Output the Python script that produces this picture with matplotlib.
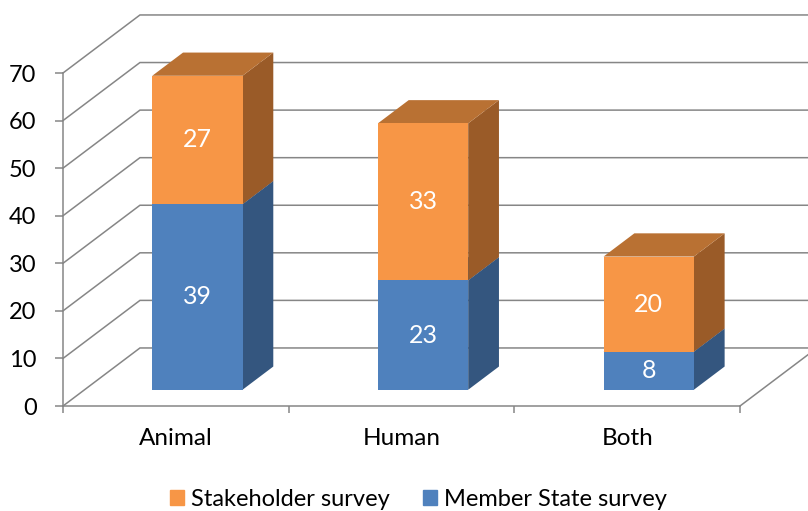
import matplotlib.pyplot as plt
from matplotlib.patches import Polygon, Patch

# data
categories = ['Animal', 'Human', 'Both']
member_state = [39, 23, 8]
stakeholder = [27, 33, 20]
series_names = ['Stakeholder survey', 'Member State survey']

plt.rcParams['font.family'] = ['Lato', 'DejaVu Sans']

GRID = '#868686'
BLUE = ['#4F81BD', '#34567F', '#3F6797']      # front, side, top
ORANGE = ['#F79646', '#9A5B28', '#B97133']

fig = plt.figure(figsize=(8.08, 5.11), dpi=100)
ax = fig.add_axes([63 / 808, 105 / 511, 677 / 808, 333 / 511])
ax.set_xlim(0, 3)
ax.set_ylim(0, 70)

# depth of the 3d box, in data units (x: categories, y: values)
DX, DY = 0.341, 12.2
d0, d1 = 0.28, 0.68      # bar front / back as fraction of full depth
w = 0.40                 # bar width

# back wall gridlines + side wall lines
for v in range(0, 80, 10):
    ax.plot([0, DX, 3 + DX + 0.2], [v, v + DY, v + DY], color=GRID, lw=1.1,
            clip_on=False, zorder=1, solid_joinstyle='miter')
ax.plot([3, 3 + DX], [0, DY], color=GRID, lw=1.1, clip_on=False, zorder=1)


def box(x0, y0, y1, cols):
    ox, oy = d0 * DX, d0 * DY
    ddx, ddy = (d1 - d0) * DX, (d1 - d0) * DY
    xl, xr = x0 + ox, x0 + w + ox
    b, t = y0 + oy, y1 + oy
    front = [(xl, b), (xr, b), (xr, t), (xl, t)]
    side = [(xr, b), (xr + ddx, b + ddy), (xr + ddx, t + ddy), (xr, t)]
    top = [(xl, t), (xr, t), (xr + ddx, t + ddy), (xl + ddx, t + ddy)]
    for pts, c in [(side, cols[1]), (top, cols[2]), (front, cols[0])]:
        ax.add_patch(Polygon(pts, closed=True, facecolor=c, edgecolor='none',
                             clip_on=False, zorder=3))
    return (xl + xr) / 2, (b + t) / 2


for i, cat in enumerate(categories):
    x0 = i + 0.5 - w / 2
    m, s = member_state[i], stakeholder[i]
    cx, cy = box(x0, 0, m, BLUE)
    ax.text(cx, cy, str(m), color='white', fontsize=18, ha='center',
            va='center', zorder=5)
    cx, cy = box(x0, m, m + s, ORANGE)
    ax.text(cx, cy, str(s), color='white', fontsize=18, ha='center',
            va='center', zorder=5)

# axes styling
for sp in ['top', 'right']:
    ax.spines[sp].set_visible(False)
for sp in ['left', 'bottom']:
    ax.spines[sp].set_color(GRID)
    ax.spines[sp].set_linewidth(1.1)
    ax.spines[sp].set_zorder(2)
ax.patch.set_visible(False)

ax.set_yticks(range(0, 80, 10))
ax.tick_params(axis='y', length=6, width=1.1, color=GRID, labelsize=17,
               pad=13)
ax.set_xticks([0.5, 1.5, 2.5])
ax.set_xticklabels(categories)
ax.set_xticks([0, 1, 2, 3], minor=True)
ax.tick_params(axis='x', which='major', length=0, labelsize=17.5, pad=16)
ax.tick_params(axis='x', which='minor', length=5, width=1.1, color=GRID)

handles = [Patch(color=ORANGE[0]), Patch(color=BLUE[0])]
fig.legend(handles, series_names, loc='center', ncol=2,
           bbox_to_anchor=(0.518, 12 / 511), frameon=False, fontsize=17,
           handlelength=0.6, handleheight=0.6, handletextpad=0.3,
           columnspacing=1.4)

fig.savefig('out.png', dpi=100)
